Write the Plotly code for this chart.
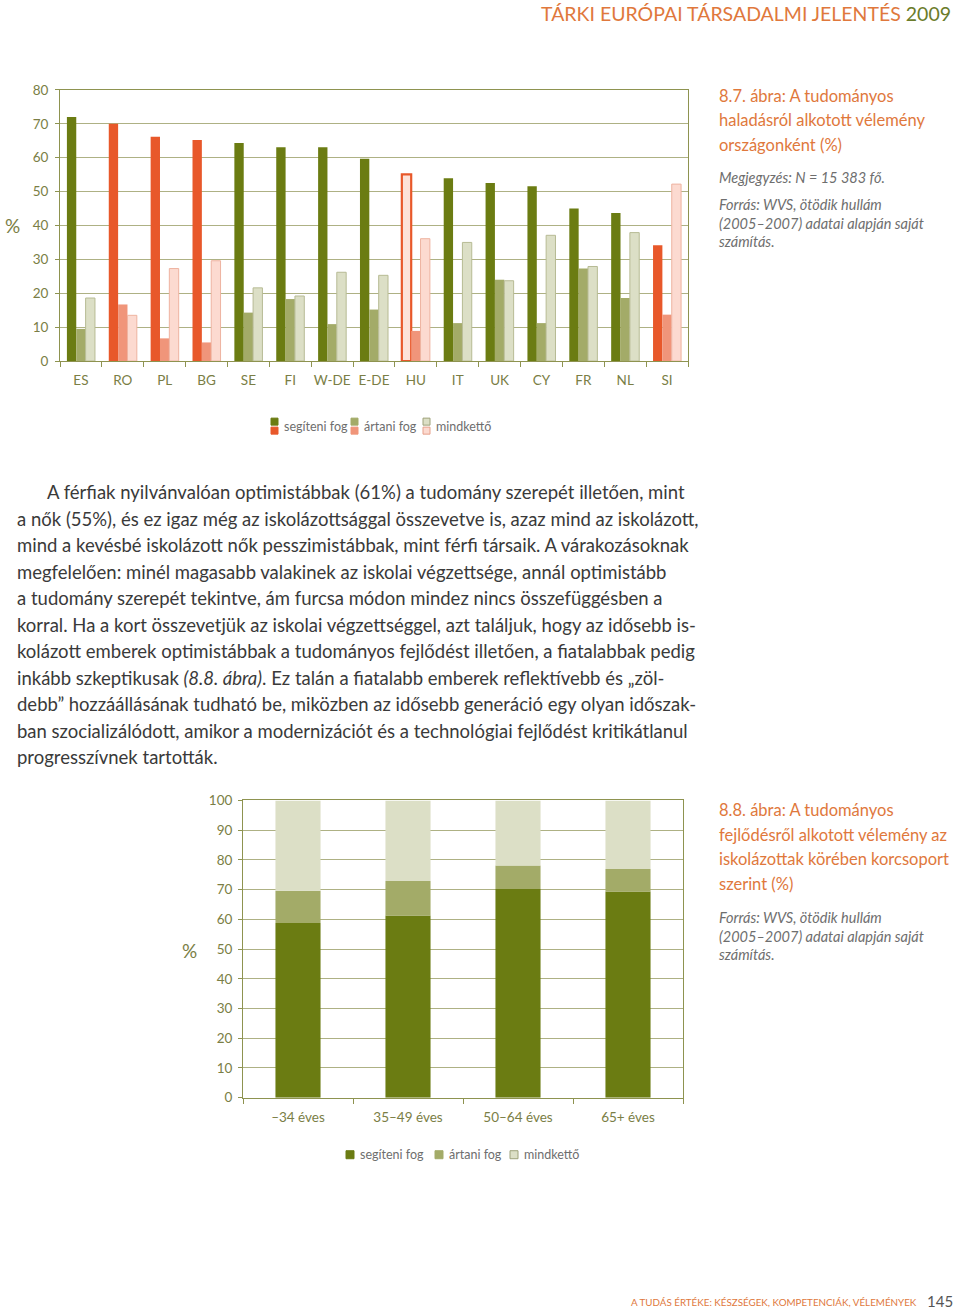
import plotly.graph_objects as go

# ---------------- data ----------------
countries = ["ES", "RO", "PL", "BG", "SE", "FI", "W-DE", "E-DE", "HU", "IT", "UK", "CY", "FR", "NL", "SI"]
segiteni = [72.0, 70.0, 66.2, 65.2, 64.3, 63.1, 63.1, 59.7, 55.1, 53.9, 52.5, 51.6, 45.0, 43.7, 34.2]
artani = [9.5, 16.7, 6.7, 5.5, 14.3, 18.3, 10.9, 15.2, 8.9, 11.2, 24.0, 11.2, 27.3, 18.6, 13.7]
mindketto = [18.6, 13.5, 27.3, 29.6, 21.6, 19.2, 26.2, 25.3, 36.1, 35.0, 23.7, 37.1, 27.9, 37.9, 52.2]
highlighted = ["RO", "PL", "BG", "HU", "SI"]
outlined = ["HU"]

age_groups = ["–34 éves", "35–49 éves", "50–64 éves", "65+ éves"]
seg2 = [58.8, 61.3, 70.2, 69.4]
art2 = [10.8, 11.6, 7.9, 7.5]
mind2 = [30.4, 27.1, 21.9, 23.1]

series_names = ["segíteni fog", "ártani fog", "mindkettő"]
y1_ticks = [0, 10, 20, 30, 40, 50, 60, 70, 80]
y2_ticks = [0, 10, 20, 30, 40, 50, 60, 70, 80, 90, 100]

# ---------------- styles ----------------
W, H = 960, 1311
FONT = "Lato"
G1, G2, G3, G3L = "#6b7c12", "#a3ab68", "#dcdfc6", "#b7bb94"
O1, O2, O3, O3L = "#e8582a", "#f0957a", "#fcdad0", "#eeb3a0"
ORANGE_TXT = "#e0783c"
OLIVE_TXT = "#7a7e45"
GRAY_TXT = "#6e6e6e"
GRID = "#aeb184"
AXIS = "#8e9350"

# page placement calibration (vertical)
Y_OFF, Y_SCALE = 8.2, 0.987


def px(x):
    return x / W


def py(y):
    return 1 - ((y - Y_OFF) / Y_SCALE) / H


def pick(c, green, orange):
    return orange if c in highlighted else green


fig = go.Figure()

# chart 1 : grouped bars
seg_fill = [("#fde2d8" if c in outlined else pick(c, G1, O1)) for c in countries]
seg_line_col = [(O1 if c in outlined else pick(c, G1, O1)) for c in countries]
seg_line_w = [(2.2 if c in outlined else 0) for c in countries]
fig.add_trace(go.Bar(x=countries, y=segiteni, name=series_names[0], xaxis="x", yaxis="y",
                     marker=dict(color=seg_fill, line=dict(color=seg_line_col, width=seg_line_w)),
                     showlegend=False))
fig.add_trace(go.Bar(x=countries, y=artani, name=series_names[1], xaxis="x", yaxis="y",
                     marker=dict(color=[pick(c, G2, O2) for c in countries],
                                 line=dict(width=0)), showlegend=False))
fig.add_trace(go.Bar(x=countries, y=mindketto, name=series_names[2], xaxis="x", yaxis="y",
                     marker=dict(color=[pick(c, G3, O3) for c in countries],
                                 line=dict(color=[pick(c, G3L, O3L) for c in countries], width=1)),
                     showlegend=False))

# chart 2 : stacked bars (explicit bases)
base_art = seg2
base_mind = [a + b for a, b in zip(seg2, art2)]
for vals, base, col, nm in [(seg2, None, G1, series_names[0]),
                            (art2, base_art, G2, series_names[1]),
                            (mind2, base_mind, G3, series_names[2])]:
    fig.add_trace(go.Bar(x=age_groups, y=vals, base=base, name=nm, xaxis="x2", yaxis="y2",
                         offsetgroup="stack", width=0.41, offset=-0.205,
                         marker=dict(color=col, line=dict(width=0)), showlegend=False))

axis_common = dict(showline=True, linecolor=AXIS, linewidth=1, mirror=True,
                   tickfont=dict(family=FONT, size=13.5, color=OLIVE_TXT), fixedrange=True)

fig.update_layout(
    width=W, height=H, margin=dict(l=0, r=0, t=0, b=0),
    paper_bgcolor="white", plot_bgcolor="white",
    barmode="group", bargap=0.33, bargroupgap=0,
    font=dict(family=FONT, color=GRAY_TXT),
    xaxis=dict(domain=[px(60), px(688)], anchor="y", ticks="outside", tickson="boundaries",
               ticklen=5, tickcolor=AXIS, showgrid=False, tickangle=0, ticklabelstandoff=7,
               **axis_common),
    yaxis=dict(domain=[py(361), py(90)], anchor="x", range=[0, 80], tickvals=y1_ticks,
               ticks="outside", ticklen=4, tickcolor=AXIS, showgrid=True, gridcolor=GRID,
               gridwidth=1, zeroline=False, ticklabelstandoff=4, **axis_common),
    xaxis2=dict(domain=[px(243), px(683)], anchor="y2", ticks="outside", tickson="boundaries",
                ticklen=5, tickcolor=AXIS, showgrid=False, tickangle=0, ticklabelstandoff=7,
                **axis_common),
    yaxis2=dict(domain=[py(1097), py(800)], anchor="x2", range=[0, 100], tickvals=y2_ticks,
                ticks="outside", ticklen=4, tickcolor=AXIS, showgrid=True, gridcolor=GRID,
                gridwidth=1, zeroline=False, ticklabelstandoff=3, **axis_common),
)

ann = []
shapes = []


def text(x, y, t, size, color, italic=False, xanchor="left", family=FONT):
    if italic:
        t = "<i>" + t + "</i>"
    ann.append(dict(x=px(x), y=py(y), xref="paper", yref="paper", text=t, showarrow=False,
                    xanchor=xanchor, yanchor="middle", align="left",
                    font=dict(family=family, size=size, color=color)))


# header / footer
text(953, 14, "<span style='color:%s'>TÁRKI EURÓPAI TÁRSADALMI JELENTÉS</span> "
     "<span style='color:%s'>2009</span>" % (ORANGE_TXT, "#6b7c2a"), 19.5, ORANGE_TXT, xanchor="right")
text(919, 1301, "A TUDÁS ÉRTÉKE: KÉSZSÉGEK, KOMPETENCIÁK, VÉLEMÉNYEK", 9.8, ORANGE_TXT, xanchor="right")
text(955, 1300, "145", 15, "#555555", xanchor="right")

# % axis titles
text(12, 226, "%", 19, OLIVE_TXT, xanchor="center")
text(189, 950, "%", 19, OLIVE_TXT, xanchor="center")

# captions
for i, line in enumerate(["8.7. ábra: A tudományos", "haladásról alkotott vélemény",
                          "országonként (%)"]):
    text(717, 96 + i * 24.5, line, 16.5, ORANGE_TXT)
text(717, 178, "Megjegyzés: N = 15 383 fő.", 14.5, GRAY_TXT, italic=True)
for i, line in enumerate(["Forrás: WVS, ötödik hullám", "(2005–2007) adatai alapján saját",
                          "számítás."]):
    text(717, 205 + i * 18.5, line, 14.5, GRAY_TXT, italic=True)

for i, line in enumerate(["8.8. ábra: A tudományos", "fejlődésről alkotott vélemény az",
                          "iskolázottak körében korcsoport", "szerint (%)"]):
    text(717, 810 + i * 24.4, line, 16.5, ORANGE_TXT)
for i, line in enumerate(["Forrás: WVS, ötödik hullám", "(2005–2007) adatai alapján saját",
                          "számítás."]):
    text(717, 917 + i * 18.5, line, 14.5, GRAY_TXT, italic=True)

# body text
body = [
    "A férfiak nyilvánvalóan optimistábbak (61%) a tudomány szerepét illetően, mint",
    "a nők (55%), és ez igaz még az iskolázottsággal összevetve is, azaz mind az iskolázott,",
    "mind a kevésbé iskolázott nők pesszimistábbak, mint férfi társaik. A várakozásoknak",
    "megfelelően: minél magasabb valakinek az iskolai végzettsége, annál optimistább",
    "a tudomány szerepét tekintve, ám furcsa módon mindez nincs összefüggésben a",
    "korral. Ha a kort összevetjük az iskolai végzettséggel, azt találjuk, hogy az idősebb is-",
    "kolázott emberek optimistábbak a tudományos fejlődést illetően, a fiatalabbak pedig",
    "inkább szkeptikusak <i>(8.8. ábra)</i>. Ez talán a fiatalabb emberek reflektívebb és „zöl-",
    "debb” hozzáállásának tudható be, miközben az idősebb generáció egy olyan időszak-",
    "ban szocializálódott, amikor a modernizációt és a technológiai fejlődést kritikátlanul",
    "progresszívnek tartották.",
]
for i, line in enumerate(body):
    text(45 if i == 0 else 15, 492 + i * 26.5, line, 18.5, "#3a3a3a")


# legends (manual swatches)
def swatch(x0, y0, x1, y1, fill, line):
    shapes.append(dict(type="rect", xref="paper", yref="paper", x0=px(x0), x1=px(x1),
                       y0=py(y1), y1=py(y0), fillcolor=fill, line=dict(color=line, width=1)))


leg1 = [(271, G1, O1, G1, O1), (351, G2, O2, G2, O2), (423, G3, O3, "#9ea27a", "#e6a08a")]
for (x, gc, oc, gl, ol), nm in zip(leg1, series_names):
    swatch(x, 418, x + 7, 425, gc, gl)
    swatch(x, 427, x + 7, 434, oc, ol)
    text(x + 11, 426, nm, 12.5, GRAY_TXT)

leg2 = [(346, G1, G1), (435, G2, G2), (510, G3, "#9ea27a")]
for (x, c, l), nm in zip(leg2, series_names):
    swatch(x, 1150, x + 8, 1158, c, l)
    text(x + 12, 1154, nm, 12.5, GRAY_TXT)

fig.update_layout(annotations=ann, shapes=shapes)
fig.write_html(
    "out.html",
    config={"displayModeBar": False, "staticPlot": True},
    post_script=(
        "var d=document.getElementById('{plot_id}');"
        "d.style.position='fixed';d.style.top='0px';d.style.left='0px';"
        "document.documentElement.style.margin='0';document.body.style.margin='0';"
        "document.documentElement.style.overflow='hidden';document.body.style.overflow='hidden';"
    ),
)
